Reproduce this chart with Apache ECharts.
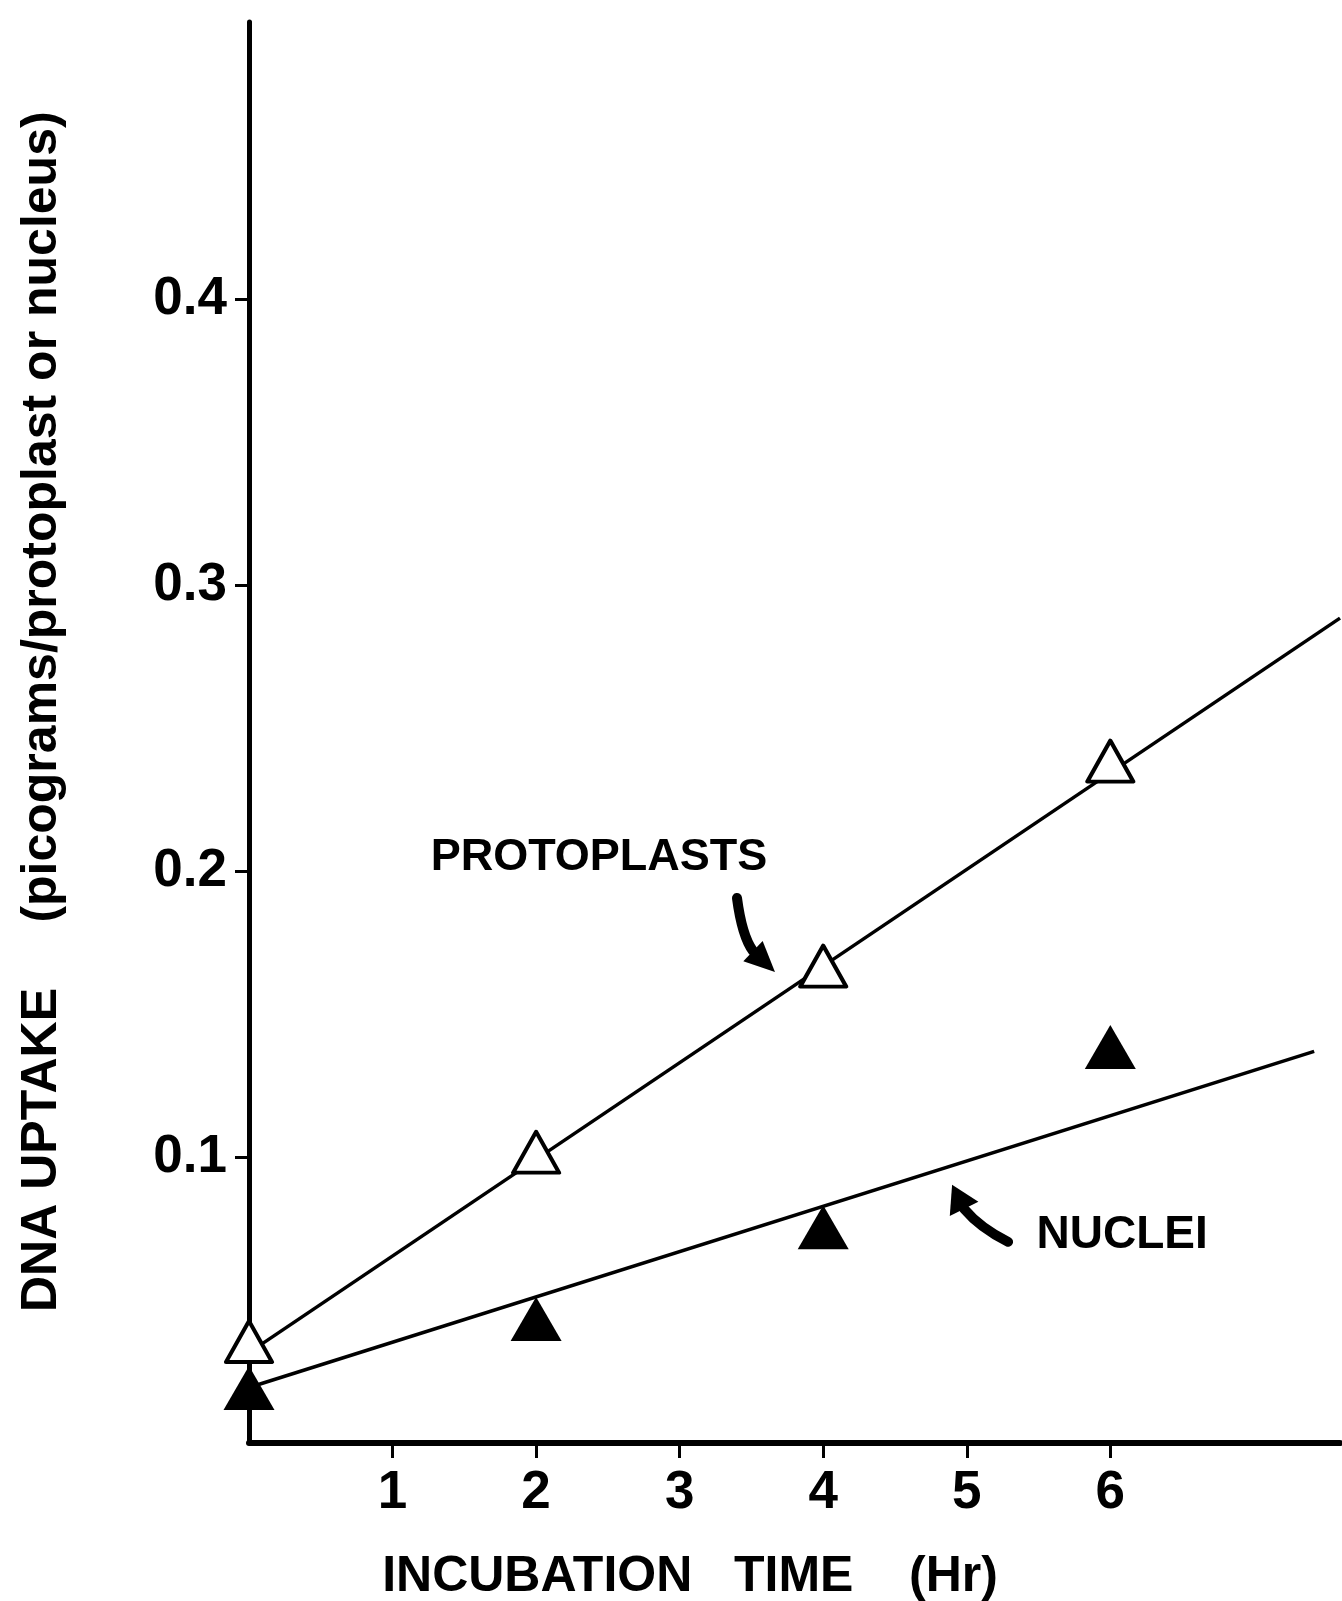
<!DOCTYPE html>
<html><head><meta charset="utf-8">
<script src="https://cdn.jsdelivr.net/npm/echarts@6/dist/echarts.min.js"></script>
<style>html,body{margin:0;padding:0;background:#fff}#c{width:1342px;height:1601px}</style>
</head><body><div id="c"></div>
<script>
// ---- data ----
const hours = [0, 2, 4, 6];
const protoplasts = [0.0355, 0.1017, 0.1668, 0.2385];
const nuclei = [0.0192, 0.0434, 0.0755, 0.1385];
const protoFitX = [0, 7.6];
const protoFitY = [0.0316, 0.2885];
const nucleiFitX = [0, 7.42];
const nucleiFitY = [0.0194, 0.137];
const xTicks = [1, 2, 3, 4, 5, 6];
const yTicks = [0.1, 0.2, 0.3, 0.4];
const xTitle = 'INCUBATION   TIME    (Hr)';
const yTitleMain = 'DNA UPTAKE';
const yTitleSub = '(picograms/protoplast or nucleus)';
const annoText = ['PROTOPLASTS', 'NUCLEI'];
const annoX = [2.438, 6.082];
const annoY = [0.2046, 0.0728];

// ---- chart ----
const FONT = '"Liberation Sans", Arial, sans-serif';
const chart = echarts.init(document.getElementById('c'), null, {renderer: 'canvas'});
const labelStyle = {color: '#000', fontSize: 53, fontWeight: 'bold', fontFamily: FONT};

chart.setOption({
  animation: false,
  backgroundColor: '#fff',
  grid: {left: 249, right: 2, top: 22, bottom: 158, containLabel: false, outerBoundsMode: 'none'},
  xAxis: {
    type: 'value', min: 0, max: 7.6,
    axisLine: {show: true, onZero: false, lineStyle: {color: '#000', width: 6, cap: 'round'}},
    axisTick: {show: true, customValues: xTicks, length: 15, lineStyle: {color: '#000', width: 3}},
    axisLabel: Object.assign({customValues: xTicks, margin: 24}, labelStyle),
    splitLine: {show: false}
  },
  yAxis: {
    type: 'value', min: 0, max: 0.497,
    axisLine: {show: true, onZero: false, lineStyle: {color: '#000', width: 5, cap: 'round'}},
    axisTick: {show: true, customValues: yTicks, length: 14, lineStyle: {color: '#000', width: 3}},
    axisLabel: Object.assign({customValues: yTicks, margin: 22, formatter: v => v.toFixed(1)}, labelStyle),
    splitLine: {show: false}
  },
  series: [
    {type: 'line', name: 'protoFit', data: protoFitX.map((x, i) => [x, protoFitY[i]]),
     showSymbol: false, symbol: 'none', lineStyle: {color: '#000', width: 3.5}, z: 3, silent: true},
    {type: 'line', name: 'nucleiFit', data: nucleiFitX.map((x, i) => [x, nucleiFitY[i]]),
     showSymbol: false, symbol: 'none', lineStyle: {color: '#000', width: 3.5}, z: 3, silent: true},
    {type: 'scatter', name: 'Protoplasts', data: hours.map((h, i) => [h, protoplasts[i]]),
     symbol: 'triangle', symbolSize: [46, 41], clip: false, z: 5,
     itemStyle: {color: '#fff', borderColor: '#000', borderWidth: 4, borderJoin: 'round', opacity: 1}},
    {type: 'scatter', name: 'Nuclei', data: hours.map((h, i) => [h, nuclei[i]]),
     symbol: 'triangle', symbolSize: [51, 44], clip: false, z: 5,
     itemStyle: {color: '#000', opacity: 1}}
  ]
});

// ---- annotations ----
function px(x, y) { return chart.convertToPixel({gridIndex: 0}, [x, y]); }
function arrow(c, tail, ctrl, base, tip, hw) {
  const dx = tip[0] - base[0], dy = tip[1] - base[1];
  const L = Math.hypot(dx, dy), nx = -dy / L, ny = dx / L;
  return [
    {type: 'bezierCurve', z: 10,
     shape: {x1: c[0] + tail[0], y1: c[1] + tail[1], cpx1: c[0] + ctrl[0], cpy1: c[1] + ctrl[1],
             x2: c[0] + base[0], y2: c[1] + base[1]},
     style: {stroke: '#000', lineWidth: 10, fill: null, lineCap: 'round'}},
    {type: 'polygon', z: 10,
     shape: {points: [[c[0] + tip[0], c[1] + tip[1]],
                      [c[0] + base[0] + nx * hw, c[1] + base[1] + ny * hw],
                      [c[0] + base[0] - nx * hw, c[1] + base[1] - ny * hw]]},
     style: {fill: '#000'}}
  ];
}
const pP = px(annoX[0], annoY[0]);
const pN = px(annoX[1], annoY[1]);
const textBase = {fill: '#000', fontSize: 45, fontWeight: 'bold', fontFamily: FONT,
                  align: 'center', verticalAlign: 'middle', textAlign: 'center', textVerticalAlign: 'middle'};
const graphics = [
  {type: 'text', z: 10, x: pP[0], y: pP[1], style: Object.assign({}, textBase, {text: annoText[0]})},
  {type: 'text', z: 10, x: pN[0], y: pN[1], style: Object.assign({}, textBase, {text: annoText[1], fontSize: 46})},
  {type: 'text', z: 10, x: 690, y: 1577, style: Object.assign({}, textBase, {text: xTitle, fontSize: 50})},
  {type: 'text', z: 10, x: 42, y: 1150, rotation: Math.PI / 2,
   style: Object.assign({}, textBase, {text: yTitleMain, fontSize: 50})},
  {type: 'text', z: 10, x: 42, y: 517, rotation: Math.PI / 2,
   style: Object.assign({}, textBase, {text: yTitleSub, fontSize: 50})}
].concat(
  arrow(pP, [138, 40], [143, 78], [154, 93], [176, 114], 14),
  arrow(pN, [-114, 7], [-142, -7], [-158, -26], [-170, -50], 16)
);
chart.setOption({graphic: graphics});
</script>
</body></html>
